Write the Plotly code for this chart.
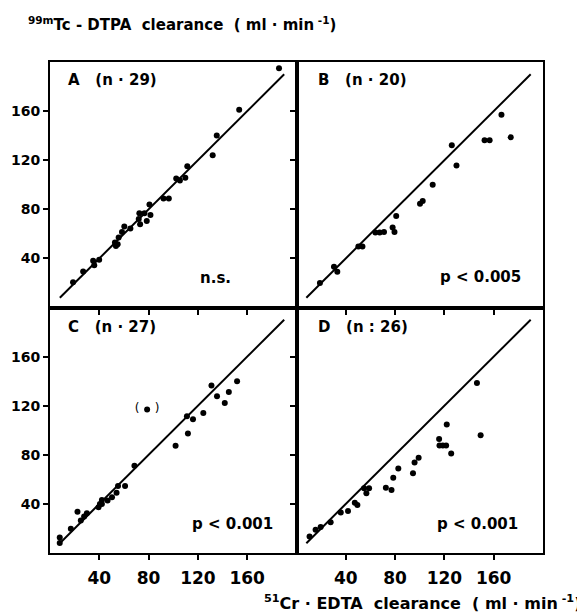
import plotly.graph_objects as go
from plotly.subplots import make_subplots

# ---- data (x: 51Cr-EDTA clearance, y: 99mTc-DTPA clearance, ml/min) ----
a_x = [185.8, 153.5, 135.3, 132.0, 111.4, 102.4, 105.4, 109.8, 92.1, 96.4, 80.7,
       72.5, 76.6, 73.1, 78.5, 81.5, 72.0, 60.3, 65.2, 58.4, 55.7, 52.7, 53.5, 54.9,
       35.0, 35.9, 39.9, 26.9, 18.7]
a_y = [194.9, 161.0, 140.2, 124.0, 115.1, 105.1, 103.5, 105.7, 88.9, 88.9, 84.0,
       76.7, 76.7, 67.8, 70.5, 75.3, 72.0, 65.9, 64.3, 61.6, 57.0, 53.0, 50.2, 51.6,
       38.0, 34.5, 38.8, 29.4, 20.5]

b_x = [166.3, 173.8, 152.6, 156.7, 126.0, 129.8, 110.5, 100.2, 102.4, 80.9,
       64.0, 67.5, 71.0, 78.0, 79.5, 50.2, 53.5, 30.4, 33.1, 19.0]
b_y = [157.0, 138.6, 136.2, 136.2, 132.1, 115.7, 100.0, 84.6, 86.7, 74.5,
       61.1, 61.1, 61.6, 65.1, 61.6, 49.7, 49.7, 33.2, 29.1, 20.0]

c_x = [151.8, 131.0, 145.1, 135.5, 141.8, 124.4, 111.1, 116.0, 111.9, 101.9, 68.5,
       55.2, 60.9, 54.0, 50.3, 46.7, 42.1, 42.1, 39.4, 40.5, 22.3, 29.9, 27.7, 25.0,
       16.9, 7.9, 7.9]
c_y = [140.0, 136.5, 131.1, 127.8, 122.1, 114.0, 111.4, 108.9, 97.3, 87.3, 71.0,
       54.6, 54.6, 49.1, 45.4, 42.7, 43.2, 40.0, 37.3, 40.0, 33.7, 32.4, 29.7, 26.4,
       19.7, 12.7, 8.1]
c_out_x = [78.8]
c_out_y = [117.0]

d_x = [146.4, 149.4, 121.9, 115.7, 116.0, 118.7, 121.4, 125.5, 99.1, 95.8, 94.5,
       82.6, 78.5, 72.5, 77.1, 54.8, 58.9, 56.7, 47.3, 49.4, 41.8, 35.9, 27.7, 19.6,
       15.5, 10.6]
d_y = [138.4, 95.9, 104.6, 92.9, 87.6, 87.6, 87.6, 81.1, 77.5, 73.8, 64.9,
       68.9, 61.3, 53.2, 51.3, 52.7, 52.7, 48.7, 41.0, 39.2, 34.3, 32.9, 25.1, 21.1,
       18.9, 13.5]

identity_x = [8, 190]
identity_y = [8, 190]

tick_vals = [40, 80, 120, 160]
tick_text = ["40", "80", "120", "160"]

panel_labels = ["A   (n · 29)", "B   (n · 20)", "C   (n · 27)", "D   (n : 26)"]
p_labels = ["n.s.", "p < 0.005", "p < 0.001", "p < 0.001"]

FONT = "DejaVu Sans"

fig = make_subplots(rows=2, cols=2, horizontal_spacing=0, vertical_spacing=0)

panels = [(a_x, a_y, 1, 1), (b_x, b_y, 1, 2), (c_x, c_y, 2, 1), (d_x, d_y, 2, 2)]
for (px, py, r, c) in panels:
    fig.add_trace(go.Scatter(x=identity_x, y=identity_y, mode="lines",
                             line=dict(color="black", width=2), showlegend=False,
                             hoverinfo="skip"), row=r, col=c)
    fig.add_trace(go.Scatter(x=px, y=py, mode="markers",
                             marker=dict(color="black", size=6), showlegend=False),
                  row=r, col=c)

fig.add_trace(go.Scatter(x=c_out_x, y=c_out_y, mode="markers+text",
                         marker=dict(color="black", size=6),
                         text=["(    )"], textposition="middle center",
                         textfont=dict(family=FONT, size=12, color="black"),
                         showlegend=False), row=2, col=1)

for r in (1, 2):
    for c in (1, 2):
        fig.update_xaxes(range=[0, 200], tickvals=tick_vals, ticktext=tick_text,
                         showticklabels=(r == 2), ticks="outside", ticklen=5,
                         tickwidth=2, tickcolor="black", showgrid=False,
                         zeroline=False, showline=True, linecolor="black",
                         linewidth=2, mirror=True, ticklabelstandoff=4,
                         automargin=False,
                         tickfont=dict(family=FONT, size=17, color="black", weight="bold"),
                         row=r, col=c)
        fig.update_yaxes(range=[0, 200], tickvals=tick_vals, ticktext=tick_text,
                         showticklabels=(c == 1), ticks="outside", ticklen=5,
                         tickwidth=2, tickcolor="black", showgrid=False,
                         zeroline=False, showline=True, linecolor="black",
                         linewidth=2, mirror=True, automargin=False,
                         tickfont=dict(family=FONT, size=14, color="black", weight="bold"),
                         row=r, col=c)

# page body has an 8px margin: figure is drawn 8px in from the window corner
OFF = 8
W, H = 585 - OFF, 616 - OFF
L, T = 50 - OFF, 62 - OFF
R = W - (543 - OFF)
B = H - (553 - OFF)
PW, PH = W - L - R, H - T - B


def px2paper(x, y):
    x -= OFF
    y -= OFF
    return (x - L) / PW, (H - B - y) / PH


annots = []
label_pos = [(66, 80), (316, 80), (66, 327), (316, 327)]
for txt, (x, y) in zip(panel_labels, label_pos):
    xp, yp = px2paper(x, y)
    annots.append(dict(text=txt, x=xp, y=yp, xref="paper", yref="paper",
                       xanchor="left", yanchor="middle", showarrow=False,
                       font=dict(family=FONT, size=15, color="black", weight="bold")))
p_pos = [(233, 278), (523, 277), (275, 524), (520, 524)]
for txt, (x, y) in zip(p_labels, p_pos):
    xp, yp = px2paper(x, y)
    annots.append(dict(text=txt, x=xp, y=yp, xref="paper", yref="paper",
                       xanchor="right", yanchor="middle", showarrow=False,
                       font=dict(family=FONT, size=15, color="black", weight="bold")))

xp, yp = px2paper(26, 24)
annots.append(dict(text="<sup>99m</sup>Tc - DTPA  clearance  ( ml · min<sup> -1</sup>)",
                   x=xp, y=yp, xref="paper", yref="paper", xanchor="left",
                   yanchor="middle", showarrow=False,
                   font=dict(family=FONT, size=15, color="black", weight="bold")))
xp, yp = px2paper(262, 602)
annots.append(dict(text="<sup>51</sup>Cr · EDTA  clearance  ( ml · min<sup> -1</sup>)",
                   x=xp, y=yp, xref="paper", yref="paper", xanchor="left",
                   yanchor="middle", showarrow=False,
                   font=dict(family=FONT, size=16, color="black", weight="bold")))

fig.update_layout(width=W, height=H, margin=dict(l=L, r=R, t=T, b=B, autoexpand=False),
                  plot_bgcolor="white", paper_bgcolor="white",
                  annotations=annots, showlegend=False)

fig.write_html("out.html")
